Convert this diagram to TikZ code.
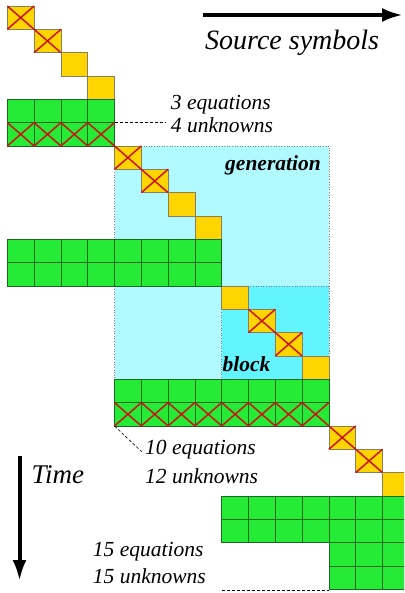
\documentclass[tikz,border=0pt]{standalone}
\usepackage{fontspec}
\setmainfont{Liberation Serif}
\usetikzlibrary{arrows.meta}

\definecolor{cellgreen}{RGB}{37,235,55}
\definecolor{cellyellow}{RGB}{255,213,0}
\definecolor{genbg}{RGB}{176,249,255}
\definecolor{blockbg}{RGB}{98,245,255}
\definecolor{crossred}{RGB}{205,20,20}
\definecolor{greenedge}{RGB}{25,105,30}
\definecolor{yellowedge}{RGB}{135,125,95}

% grid: column c starts at 7.3 + 26.8 c, row r starts at 6 + 23.33 r (y downwards)
\newcommand\cellbox[4]{% #1 col, #2 row, #3 style, #4 crossed (1/0)
  \pgfmathsetmacro\xa{7.3+26.8*#1}\pgfmathsetmacro\xb{\xa+26.8}%
  \pgfmathsetmacro\ya{6+23.33*#2}\pgfmathsetmacro\yb{\ya+23.33}%
  \draw[#3] (\xa,\ya) rectangle (\xb,\yb);
  \ifnum#4=1 \draw[xmark] (\xa,\ya) -- (\xb,\yb) (\xa,\yb) -- (\xb,\ya);\fi
}

\begin{document}
\begin{tikzpicture}[x=1pt,y=-1pt,
  ycell/.style={fill=cellyellow,draw=yellowedge,line width=0.8pt},
  gcell/.style={fill=cellgreen,draw=greenedge,line width=0.8pt},
  xmark/.style={draw=crossred,line width=1.5pt},
  region/.style={draw=gray,dotted,line width=0.6pt},
  lbl/.style={font=\fontsize{21.5}{25}\selectfont\itshape,anchor=base west,inner sep=0pt},
  tag/.style={font=\fontsize{21.5}{25}\selectfont\bfseries\itshape,inner sep=0pt},
  axislbl/.style={font=\fontsize{28}{32}\selectfont\itshape,anchor=base west,inner sep=0pt},
  leader/.style={draw=black,dash pattern=on 3pt off 2pt,line width=0.6pt},
  axis/.style={draw=black,line width=4pt,-{Latex[length=21pt,width=14pt]}}]

\useasboundingbox (0,0) rectangle (404,593);
\clip (0,0) rectangle (404,593);

% generation window and the block inside it
\fill[genbg] (114.5,146) rectangle (328.9,379.3);
\draw[region] (114.5,146) rectangle (328.9,379.3);
\fill[blockbg] (221.7,286) rectangle (328.9,379.3);
\draw[region] (221.7,286) rectangle (328.9,379.3);

% source symbols on the diagonal
\foreach \c/\r/\k in {0/0/1,1/1/1,2/2/0,3/3/0,4/6/1,5/7/1,6/8/0,7/9/0,
                      8/12/0,9/13/1,10/14/1,11/15/0,12/18/1,13/19/1,14/20/0}
  {\cellbox{\c}{\r}{ycell}{\k}}

% equation rows
\foreach \r/\a/\b/\k in {4/0/3/0,5/0/3/1,10/0/7/0,11/0/7/0,16/4/11/0,17/4/11/1,
                         21/8/14/0,22/8/14/0,23/12/14/0,24/12/14/0}
  {\foreach \c in {\a,...,\b}{\cellbox{\c}{\r}{gcell}{\k}}}

% axes
\coordinate (srcA) at (203,15);
\coordinate (srcB) at (403,15);
\draw[axis] (srcA) -- (srcB);
\node[axislbl] (src) at (205,50) {Source symbols};

\coordinate (timeA) at (19.5,456);
\coordinate (timeB) at (19.5,581);
\draw[axis] (timeA) -- (timeB);
\node[axislbl,font=\fontsize{27}{31}\selectfont\itshape] (time) at (31.5,483.5) {Time};

% region tags
\node[tag,anchor=base east] (gen) at (321,171) {generation};
\node[tag,anchor=base west] (blk) at (222.5,371.5) {block};

% counts
\node[lbl] (eq3) at (170.7,109.5) {3 equations};
\node[lbl] (un4) at (170.7,132.5) {4 unknowns};
\coordinate (p4) at (114.5,122.7);
\coordinate (p4e) at (166,122.7);
\draw[leader] (p4) -- (p4e);

\node[lbl] (eq10) at (145,454.3) {10 equations};
\node[lbl] (un12) at (145,483.3) {12 unknowns};
\coordinate (p10) at (114.5,426);
\coordinate (p10e) at (141.7,451.7);
\draw[leader] (p10) -- (p10e);

\node[lbl] (eq15) at (92.7,556) {15 equations};
\node[lbl] (un15) at (92.7,583.5) {15 unknowns};
\coordinate (p15) at (221.7,590);
\coordinate (p15e) at (328.9,590);
\draw[leader] (p15) -- (p15e);
\end{tikzpicture}
\end{document}
